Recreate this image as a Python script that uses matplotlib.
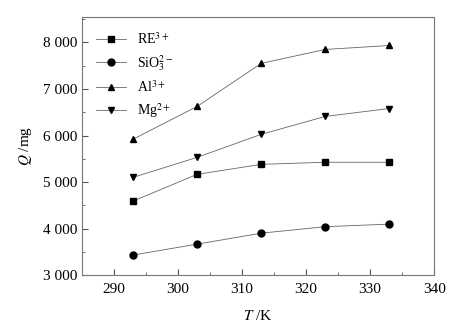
import matplotlib
matplotlib.use("Agg")
import matplotlib.pyplot as plt
from matplotlib.ticker import FuncFormatter, MultipleLocator

plt.rcParams['font.family'] = ['Liberation Serif', 'DejaVu Serif']
plt.rcParams['mathtext.fontset'] = 'stix'

T = [293, 303, 313, 323, 333]
re3 = [4590, 5165, 5380, 5425, 5425]
sio3 = [3430, 3665, 3900, 4040, 4095]
al3 = [5920, 6625, 7550, 7850, 7935]
mg2 = [5100, 5530, 6025, 6410, 6580]
labels = ['RE$^{3+}$', 'SiO$_3^{2-}$', 'Al$^{3+}$', 'Mg$^{2+}$']
markers = ['s', 'o', '^', 'v']

fig = plt.figure(figsize=(4.57, 3.31), dpi=100)
ax = fig.add_axes([0.179, 0.169, 0.771, 0.78])
for y, lab, m in zip([re3, sio3, al3, mg2], labels, markers):
    ax.plot(T, y, color='#666666', lw=0.6, marker=m, ms=5,
            mfc='black', mec='black', label=lab)

ax.set_xlim(285, 340)
ax.set_ylim(3000, 8550)
ax.xaxis.set_major_locator(MultipleLocator(10))
ax.xaxis.set_minor_locator(MultipleLocator(5))
ax.yaxis.set_major_locator(MultipleLocator(1000))
ax.yaxis.set_minor_locator(MultipleLocator(500))
ax.yaxis.set_major_formatter(FuncFormatter(lambda v, p: f"{int(v):,}".replace(',', ' ')))
ax.tick_params(which='both', direction='in', labelsize=11, color='#555555')
ax.tick_params(which='major', length=4)
ax.tick_params(which='minor', length=2)
ax.tick_params(axis='x', pad=6)
for s in ax.spines.values():
    s.set_color('#777777')
    s.set_linewidth(0.8)
ax.set_xlabel('$T$ /K', fontsize=11, labelpad=9)
ax.set_ylabel('$Q$ /mg', fontsize=11, labelpad=6)
ax.legend(loc='upper left', frameon=False, fontsize=10, handlelength=2.2,
          borderaxespad=0.5, labelspacing=0.45, borderpad=0.5)
fig.savefig('out.png', dpi=100)
